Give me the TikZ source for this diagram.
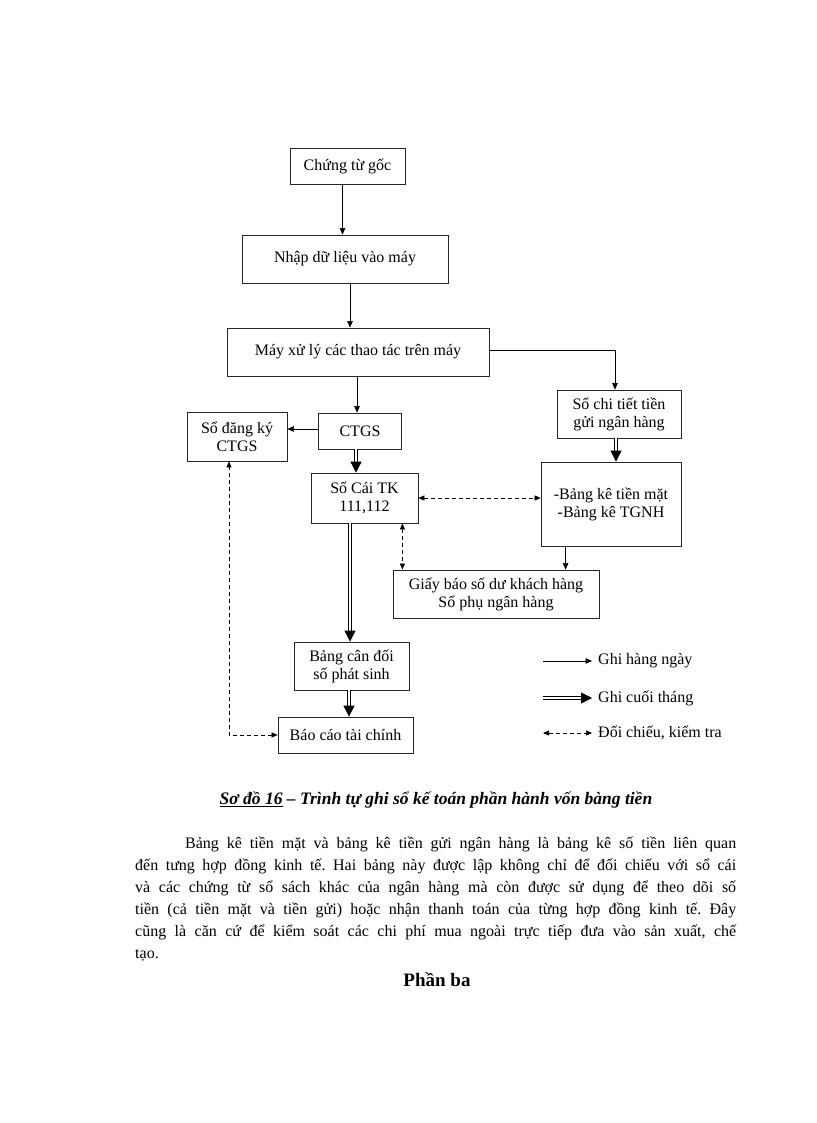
\documentclass[tikz,border=0pt]{standalone}
\usepackage{fontspec}
\setmainfont{Liberation Serif}
\usetikzlibrary{arrows.meta,positioning}
\frenchspacing
\tikzset{
  stepbox/.style={
    rectangle,
    draw=black!85,
    line width=0.8pt,
    align=center,
    inner sep=2pt,
    font=\fontsize{16}{18}\selectfont
  },
  legtext/.style={
    anchor=west,
    inner sep=0pt,
    font=\fontsize{16}{18}\selectfont
  },
  dayarrow/.style={
    -{Triangle[length=6.5pt,width=5.5pt]},
    line width=0.6pt
  },
  montharrow/.style={
    double,
    double distance=1.6pt,
    line width=0.8pt,
    -{Triangle[length=11pt,width=11pt]}
  },
  checkarrow/.style={
    {Triangle[length=6pt,width=5pt]}-{Triangle[length=6pt,width=5pt]},
    dash pattern=on 4pt off 3pt,
    line width=0.6pt
  }
}

\begin{document}
\begin{tikzpicture}[x=1pt, y=-1pt]
\useasboundingbox[fill=white] (0,0) rectangle (816,1123);

% flow boxes
\node[stepbox, minimum width=115pt, minimum height=36pt] (chungtu) at (347.5,166) {Chứng từ gốc};
\node[stepbox, minimum width=206pt, minimum height=48pt] (nhap) at (345,259) {Nhập dữ liệu vào máy};
\node[stepbox, minimum width=262pt, minimum height=48pt] (mayxl) at (358,352) {Máy xử lý các thao tác trên máy};
\node[stepbox, minimum width=83pt, minimum height=36pt] (ctgs) at (360,431) {CTGS};
\node[stepbox, minimum width=100pt, minimum height=49pt] (sodk) at (237,436.5) {Sổ đăng ký\\CTGS};
\node[stepbox, minimum width=107pt, minimum height=50pt] (socai) at (364.5,498) {Sổ Cái TK\\111,112};
\node[stepbox, minimum width=124pt, minimum height=48pt] (soct) at (619,414) {Sổ chi tiết tiền\\gửi ngân hàng};
\node[stepbox, minimum width=140pt, minimum height=84pt] (bangke) at (611,504) {-Bảng kê tiền mặt\\-Bảng kê TGNH};
\node[stepbox, minimum width=206pt, minimum height=48pt] (giaybao) at (496,594) {Giấy báo số dư khách hàng\\Sổ phụ ngân hàng};
\node[stepbox, minimum width=115pt, minimum height=48pt] (bcd) at (351.5,666) {Bảng cân đối\\số phát sinh};
\node[stepbox, minimum width=135pt, minimum height=36pt] (bctc) at (345.5,735) {Báo cáo tài chính};

% connectors
\draw[dayarrow] ([xshift=-5pt]chungtu.south) -- ([xshift=-5pt]chungtu.south |- nhap.north);
\draw[dayarrow] ([xshift=5pt]nhap.south) -- ([xshift=5pt]nhap.south |- mayxl.north);
\draw[dayarrow] ([xshift=-3pt]ctgs.north |- mayxl.south) -- ([xshift=-3pt]ctgs.north);
\draw[dayarrow] ([yshift=2pt]mayxl.east) -| ([xshift=-4pt]soct.north);
\draw[dayarrow] ([yshift=2pt]ctgs.west) -- ([yshift=2pt]ctgs.west -| sodk.east);
\draw[montharrow] ([xshift=-4pt]ctgs.south) -- ([xshift=-4pt]ctgs.south |- socai.north);
\draw[montharrow] ([xshift=-3pt]soct.south) -- ([xshift=-3pt]soct.south |- bangke.north);
\draw[checkarrow] (socai.east) -- (socai.east -| bangke.west);
\draw[checkarrow] ([xshift=-16pt]socai.south east) -- ([xshift=-16pt]socai.south east |- giaybao.north);
\draw[dayarrow] ([xshift=25pt]bangke.south west) -- ([xshift=25pt]bangke.south west |- giaybao.north);
\draw[montharrow] ([xshift=-1.5pt]bcd.north |- socai.south) -- ([xshift=-1.5pt]bcd.north);
\draw[montharrow] ([xshift=-2.5pt]bcd.south) -- ([xshift=-2.5pt]bcd.south |- bctc.north);
\draw[checkarrow] (bctc.west) -| ([xshift=-8pt]sodk.south);

% legend
\node[legtext] (legday) at (598,661) {Ghi hàng ngày};
\node[legtext] (legmonth) at (598,698) {Ghi cuối tháng};
\node[legtext] (legcheck) at (598,733) {Đối chiếu, kiểm tra};
\coordinate (legdaystart) at (543,661);
\coordinate (legmonthstart) at (543,698);
\coordinate (legcheckstart) at (543,733);
\draw[dayarrow] (legdaystart) -- ([xshift=-6pt]legday.west);
\draw[montharrow] (legmonthstart) -- ([xshift=-6pt]legmonth.west);
\draw[checkarrow] (legcheckstart) -- ([xshift=-6pt]legcheck.west);

% caption and text below
\node[font=\fontsize{17.5}{20}\selectfont\bfseries\itshape] (caption) at (436,800)
  {\underline{Sơ đồ 16} – Trình tự ghi sổ kế toán phần hành vốn bàng tiền};
\node[anchor=north west, text width=601pt, align=justify, inner sep=0pt,
      font=\fontsize{16}{22}\selectfont] (para) at (135,837)
  {\hspace*{50pt}Bảng kê tiền mặt và bảng kê tiền gửi ngân hàng là bảng kê số tiền liên quan\linebreak
   đến tưng hợp đồng kinh tế. Hai bảng này được lập không chỉ để đối chiếu với sổ cái\linebreak
   và các chứng từ sổ sách khác của ngân hàng mà còn được sử dụng để theo dõi số\linebreak
   tiền (cả tiền mặt và tiền gửi) hoặc nhận thanh toán của từng hợp đồng kinh tế. Đây\linebreak
   cũng là căn cứ để kiểm soát các chi phí mua ngoài trực tiếp đưa vào sản xuất, chế\linebreak
   tạo.};
\node[font=\fontsize{19}{22}\selectfont\bfseries] (part) at (437,980) {Phần ba};
\end{tikzpicture}
\end{document}
